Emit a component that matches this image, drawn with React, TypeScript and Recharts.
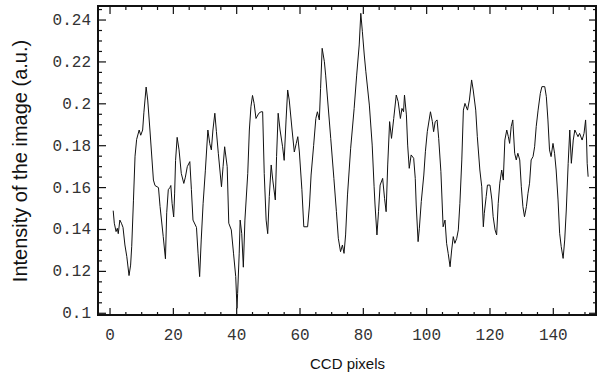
import React from 'react';
import { LineChart, Line, XAxis, YAxis, Label } from 'recharts';

// CCD pixel positions and intensities
const pixelX = [
  1.0, 1.35, 1.9, 2.3, 2.6, 3.1, 3.6, 4.1, 4.7, 5.3, 6.0, 6.5, 6.85, 7.4, 7.9, 8.4, 9.2, 9.7, 10.3, 10.7,
  11.4, 11.9, 12.6, 13.7, 14.2, 15.3, 15.8, 16.8, 17.5, 17.9, 18.4, 18.9, 19.2, 19.6, 20.1, 20.4, 20.7, 21.2, 21.8, 22.5,
  23.3, 23.8, 24.4, 25.2, 25.7, 26.2, 27.3, 27.8, 28.3, 28.8, 29.4, 30.1, 30.9, 31.5, 32.0, 32.5, 33.1, 33.6, 34.2, 35.2,
  35.7, 36.2, 37.0, 37.5, 38.3, 39.0, 39.7, 40.1, 40.3, 40.8, 41.1, 41.6, 42.1, 42.6, 43.5, 44.0, 44.5, 45.0, 45.5, 46.1,
  47.0, 47.7, 48.2, 48.7, 49.3, 49.8, 50.3, 50.9, 51.4, 52.2, 52.6, 53.1, 53.7, 54.5, 55.0, 55.6, 56.1, 56.6, 57.5, 58.2,
  58.8, 59.3, 59.8, 60.6, 61.2, 62.4, 63.0, 63.5, 64.3, 65.0, 65.5, 66.1, 66.5, 67.0, 67.7, 68.1, 68.6, 69.7, 70.7, 71.5,
  72.1, 72.8, 73.4, 73.9, 74.4, 75.0, 76.0, 77.1, 77.9, 78.7, 79.2, 79.7, 80.3, 80.8, 81.9, 82.8, 83.4, 83.7, 84.3, 84.8,
  85.3, 86.1, 86.7, 87.2, 87.7, 88.3, 88.9, 89.6, 90.4, 91.0, 91.7, 92.2, 92.7, 93.0, 93.6, 94.0, 94.5, 95.1, 95.9, 96.4,
  96.7, 97.3, 97.7, 98.3, 99.1, 99.6, 100.2, 101.2, 101.8, 102.2, 102.7, 103.3, 103.8, 104.5, 105.2, 105.8, 106.3, 106.8, 107.4, 107.9,
  108.4, 108.9, 109.5, 110.0, 110.5, 111.1, 111.6, 112.1, 112.9, 113.5, 114.2, 114.7, 115.5, 116.0, 116.8, 117.4, 117.9, 118.2, 118.8, 119.2,
  120.0, 120.6, 121.0, 121.6, 122.1, 122.6, 123.1, 123.7, 124.2, 124.7, 125.3, 125.8, 126.2, 126.7, 127.2, 127.8, 128.3, 128.8, 129.4, 129.9,
  130.4, 130.9, 131.5, 132.0, 132.5, 133.0, 133.6, 134.1, 134.6, 135.2, 135.9, 136.4, 137.3, 137.8, 138.3, 138.8, 139.3, 139.9, 140.4, 140.9,
  141.5, 142.0, 142.5, 143.1, 143.6, 144.1, 144.7, 145.2, 145.7, 146.3, 146.8, 147.3, 147.8, 148.3, 149.1, 149.7, 150.2, 150.5, 150.7, 151.0,
];

const intensity = [
  0.149, 0.143, 0.139, 0.1406, 0.138, 0.1445, 0.143, 0.141, 0.1326, 0.127, 0.118, 0.123, 0.132, 0.154, 0.175, 0.183, 0.1875, 0.185, 0.1875, 0.196,
  0.208, 0.2018, 0.1875, 0.1636, 0.161, 0.16, 0.151, 0.1366, 0.126, 0.148, 0.159, 0.16, 0.161, 0.1525, 0.146, 0.157, 0.173, 0.184, 0.178, 0.1668,
  0.162, 0.165, 0.17, 0.1724, 0.159, 0.1445, 0.141, 0.1287, 0.1175, 0.135, 0.1525, 0.168, 0.1875, 0.181, 0.178, 0.1875, 0.1955, 0.1867, 0.1764, 0.1604,
  0.17, 0.1795, 0.17, 0.143, 0.1398, 0.1287, 0.1175, 0.1024, 0.1095, 0.1287, 0.1445, 0.138, 0.122, 0.1445, 0.1668, 0.1875, 0.1986, 0.204, 0.2002, 0.193,
  0.1955, 0.1962, 0.1962, 0.1668, 0.1445, 0.138, 0.1557, 0.1708, 0.1636, 0.1541, 0.1748, 0.1955, 0.1875, 0.1795, 0.173, 0.1923, 0.2066, 0.2018, 0.1875, 0.177,
  0.181, 0.1843, 0.177, 0.159, 0.1413, 0.1413, 0.1517, 0.166, 0.18, 0.193, 0.1962, 0.1923, 0.2074, 0.2265, 0.2201, 0.2137, 0.2042, 0.1835, 0.1644, 0.1485,
  0.1358, 0.1294, 0.1326, 0.1286, 0.1374, 0.1565, 0.1788, 0.1978, 0.2137, 0.2281, 0.2432, 0.2344, 0.2233, 0.2153, 0.1994, 0.1803, 0.1604, 0.1517, 0.1374, 0.1485,
  0.1612, 0.1644, 0.1549, 0.1485, 0.1708, 0.1915, 0.1835, 0.193, 0.2042, 0.201, 0.193, 0.1978, 0.1962, 0.2042, 0.1947, 0.1803, 0.1692, 0.1756, 0.174, 0.1644,
  0.1517, 0.1342, 0.1406, 0.1533, 0.166, 0.1771, 0.1867, 0.1962, 0.1915, 0.1867, 0.1915, 0.1923, 0.1835, 0.1676, 0.1413, 0.1445, 0.1334, 0.1286, 0.1222, 0.1302,
  0.1366, 0.1334, 0.1358, 0.1398, 0.1525, 0.1732, 0.197, 0.2002, 0.197, 0.2018, 0.2114, 0.2066, 0.197, 0.1843, 0.1684, 0.1604, 0.1413, 0.1477, 0.1557, 0.1612,
  0.1612, 0.1541, 0.1461, 0.1398, 0.1374, 0.1525, 0.1621, 0.1684, 0.1636, 0.1827, 0.1875, 0.1843, 0.1811, 0.1891, 0.1923, 0.1764, 0.1732, 0.1764, 0.1732, 0.1604,
  0.1509, 0.1461, 0.1509, 0.1573, 0.1621, 0.1732, 0.1748, 0.1795, 0.1891, 0.197, 0.205, 0.2082, 0.2082, 0.2034, 0.1923, 0.178, 0.1748, 0.1811, 0.1764, 0.1684,
  0.1541, 0.1382, 0.1318, 0.1262, 0.135, 0.1493, 0.1716, 0.1875, 0.1716, 0.1827, 0.1875, 0.1859, 0.1843, 0.1859, 0.1827, 0.1859, 0.1923, 0.1827, 0.1716, 0.1652,
];

const xDomain = [-3.8, 153.8];
const yDomain = [0.0987, 0.2467];

const xMajorTicks = [0, 20, 40, 60, 80, 100, 120, 140];
const xAllTicks = [
  0, 5, 10, 15, 20, 25, 30, 35, 40, 45, 50, 55, 60, 65, 70, 75,
  80, 85, 90, 95, 100, 105, 110, 115, 120, 125, 130, 135, 140, 145, 150,
];
const yMajorTicks = [0.1, 0.12, 0.14, 0.16, 0.18, 0.2, 0.22, 0.24];
const yMajorLabels = ['0.1', '0.12', '0.14', '0.16', '0.18', '0.2', '0.22', '0.24'];
const yAllTicks = [
  0.1, 0.105, 0.11, 0.115, 0.12, 0.125, 0.13, 0.135, 0.14, 0.145, 0.15, 0.155, 0.16, 0.165,
  0.17, 0.175, 0.18, 0.185, 0.19, 0.195, 0.2, 0.205, 0.21, 0.215, 0.22, 0.225, 0.23, 0.235, 0.24, 0.245,
];

const data = pixelX.map((x, i) => ({ x, y: intensity[i] }));

// plot box in the 600x380 picture
const CHART_W = 600;
const CHART_H = 380;
const BOX = { left: 98, top: 6, right: 597, bottom: 316 };

const monoFont = '"Liberation Mono", "DejaVu Sans Mono", monospace';
const sansFont = '"Liberation Sans", Arial, sans-serif';
const frameColor = '#111';

const yMajorIndex = (v: number) => yMajorTicks.findIndex((m) => Math.abs(m - v) < 1e-6);

// frame ticks point inward; the opposite side gets the mirrored mark
const BottomTick = (props: any) => {
  const { x, y, payload } = props;
  const major = xMajorTicks.includes(payload.value);
  const len = major ? 8 : 4;
  const topY = y - (BOX.bottom - BOX.top);
  return (
    <g>
      <line x1={x} x2={x} y1={y} y2={y - len} stroke={frameColor} strokeWidth={1.2} />
      <line x1={x} x2={x} y1={topY} y2={topY + len} stroke={frameColor} strokeWidth={1.2} />
      {major && (
        <text x={x} y={y + 24} textAnchor="middle" fontFamily={monoFont} fontSize={16} fill="#333">
          {payload.value}
        </text>
      )}
    </g>
  );
};

const LeftTick = (props: any) => {
  const { x, y, payload } = props;
  const idx = yMajorIndex(payload.value);
  const major = idx >= 0;
  const len = major ? 8 : 4;
  const rightX = x + (BOX.right - BOX.left);
  return (
    <g>
      <line x1={x} x2={x + len} y1={y} y2={y} stroke={frameColor} strokeWidth={1.2} />
      <line x1={rightX} x2={rightX - len} y1={y} y2={y} stroke={frameColor} strokeWidth={1.2} />
      {major && (
        <text x={x - 7} y={y + 5} textAnchor="end" fontFamily={monoFont} fontSize={16} fill="#333">
          {yMajorLabels[idx]}
        </text>
      )}
    </g>
  );
};

export default function App() {
  return (
    <div style={{ position: 'absolute', left: 0, top: 0, width: CHART_W, height: CHART_H, background: '#fff' }}>
      <LineChart
        width={CHART_W}
        height={CHART_H}
        data={data}
        margin={{ top: BOX.top, right: CHART_W - BOX.right, bottom: 0, left: 0 }}
      >
        <XAxis
          dataKey="x"
          type="number"
          domain={xDomain}
          ticks={xAllTicks}
          interval={0}
          tick={BottomTick}
          tickLine={false}
          tickSize={0}
          tickMargin={0}
          height={CHART_H - BOX.bottom}
          axisLine={false}
          allowDataOverflow
        >
          <Label
            value="CCD pixels"
            position="insideBottom"
            offset={11}
            style={{ fontFamily: sansFont, fontSize: 15, fill: '#111' }}
          />
        </XAxis>
        <YAxis
          type="number"
          domain={yDomain}
          ticks={yAllTicks}
          interval={0}
          tick={LeftTick}
          tickLine={false}
          tickSize={0}
          tickMargin={0}
          width={BOX.left}
          axisLine={false}
          allowDataOverflow
        >
          <Label
            value="Intensity of the image (a.u.)"
            angle={-90}
            position="insideLeft"
            offset={20}
            style={{ fontFamily: sansFont, fontSize: 20, fill: '#111', textAnchor: 'middle' }}
          />
        </YAxis>
        <Line
          type="linear"
          dataKey="y"
          stroke="#111"
          strokeWidth={1}
          dot={false}
          isAnimationActive={false}
        />
      </LineChart>
      {/* plot frame */}
      <div
        style={{
          position: 'absolute',
          left: BOX.left - 1,
          top: BOX.top - 1,
          width: BOX.right - BOX.left + 1,
          height: BOX.bottom - BOX.top + 1,
          border: `2px solid ${frameColor}`,
          boxSizing: 'border-box',
          pointerEvents: 'none',
        }}
      />
    </div>
  );
}
